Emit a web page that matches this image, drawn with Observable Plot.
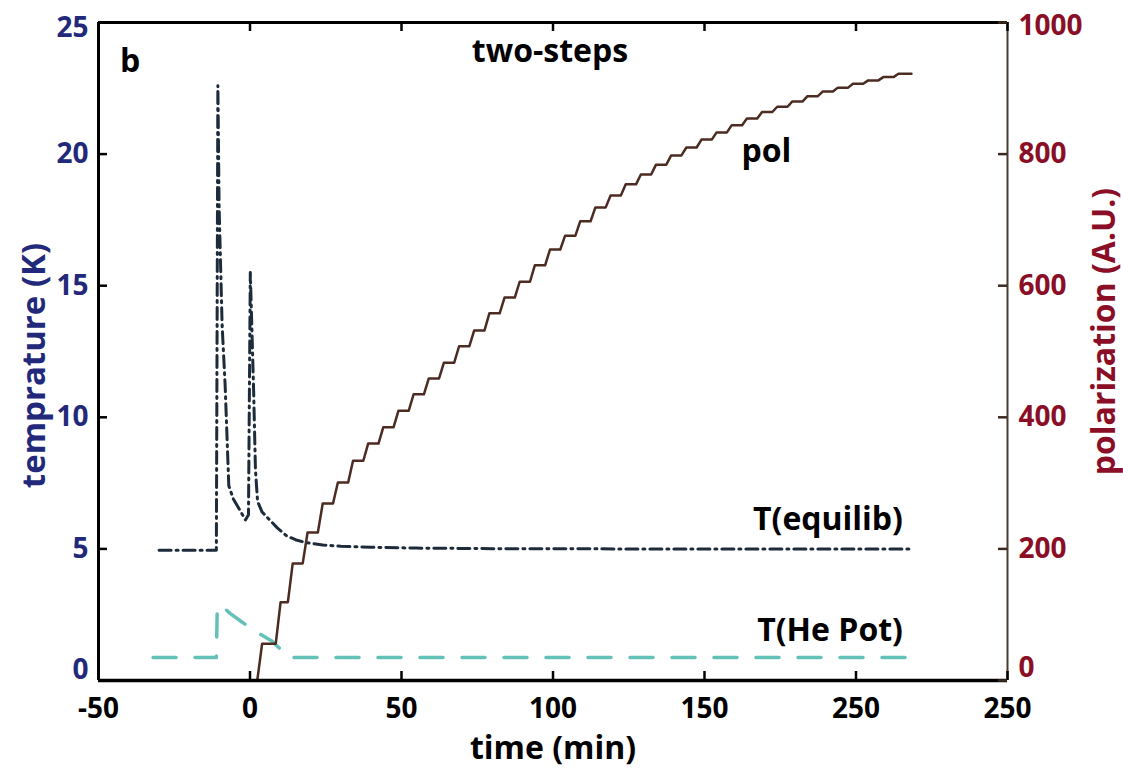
<!DOCTYPE html>
<html><head><meta charset="utf-8">
<script src="https://cdn.jsdelivr.net/npm/d3@7"></script>
<script src="https://cdn.jsdelivr.net/npm/@observablehq/plot@0.6"></script>
<style>html,body{margin:0;padding:0;background:#fff}</style>
</head><body><div id="chart"></div>
<script>
// ---- axes ----
const xTicks = [-50, 0, 50, 100, 150, 200, 250];
const xTickLabels = ["-50", "0", "50", "100", "150", "250", "250"]; // as printed in the figure
const yTicksK = [0, 5, 10, 15, 20, 25];
const polPerKelvin = 40; // right axis: 1000 A.U. at 25 K

// ---- T(equilib), dash-dot (K) ----
const eqTime = [-30, -11.1, -10.6, -10.2, -9.2, -8.2, -7.0, -5.5, -4.0, -1.5, -0.5, 0.1, 1.2, 1.8, 2.5, 4.0, 6.5, 9, 12, 15, 18, 24, 30, 40, 55, 80, 120, 218];
const eqTemp = [4.95, 4.95, 22.6, 18, 13.5, 11.2, 7.4, 6.9, 6.6, 6.1, 6.3, 15.5, 11, 8, 6.8, 6.4, 6.1, 5.8, 5.5, 5.35, 5.25, 5.15, 5.1, 5.06, 5.03, 5.01, 5.0, 5.0];

// ---- T(He Pot), dashed (K) ----
const heTime = [-32, -11.1, -10.8, -8, -6.6, -3, 0, 3.5, 7.2, 10.5, 12.5, 218];
const heTemp = [0.87, 0.87, 2.85, 2.7, 2.55, 2.25, 2.0, 1.75, 1.5, 1.14, 0.87, 0.87];

// ---- pol staircase (A.U.) ----
const polStart = 2.3;
const polEnd = 218.3;
const polStepTime = [2.4, 8.5, 12.5, 17.4, 22.4, 27.4, 32.4, 37.4, 42.4, 47.4, 52.4, 57.4, 62.4, 67.4, 72.4, 77.4, 82.4, 87.4, 92.4, 97.4, 102.4, 107.4, 112.4, 117.4, 122.4, 127.4, 132.4, 137.4, 142.4, 147.4, 152.4, 157.4, 162.4, 167.4, 172.4, 177.4, 182.4, 187.4, 192.4, 197.4, 202.4, 207.4, 212.4];
const polLevel = [56, 119, 178, 225, 269, 301, 334, 360, 385, 410, 435, 459, 483, 508, 532, 558, 582, 606, 631, 655, 676, 698, 719, 737, 754, 769, 784, 798, 810, 822, 833, 844, 854, 864, 872, 880, 888, 895, 901, 907, 912, 917, 922];

// ---- annotations ----
const notes = [
  {text: "two-steps", t: 99, k: 23.9, anchor: "middle"},
  {text: "b", t: -39.6, k: 23.5, anchor: "middle"},
  {text: "pol", t: 170.4, k: 20.1, anchor: "middle"},
  {text: "T(equilib)", t: 215.5, k: 6.1, anchor: "end"},
  {text: "T(He Pot)", t: 215.5, k: 1.9, anchor: "end"}
];

// ---- build tables ----
const eq = eqTime.map((t, i) => ({t, k: eqTemp[i]}));
const he = heTime.map((t, i) => ({t, k: heTemp[i]}));
const rise = 1.6;
const pol = [{t: polStart, v: 0}];
let prev = 0;
polStepTime.forEach((t, i) => {
  pol.push({t, v: prev});
  pol.push({t: t + rise, v: polLevel[i]});
  prev = polLevel[i];
});
pol.push({t: polEnd, v: prev});

const W = 1123, H = 773, mL = 98, mR = 116, mT = 22, mB = 93;
const fw = W - mL - mR, fh = H - mT - mB;
const font = "'Open Sans', 'DejaVu Sans', sans-serif";
const navy = "#22297a", wine = "#8b0e27";
const midK = yTicksK.slice(1, -1);
const polFmt = d => String(d * polPerKelvin);
const xFmt = d => xTickLabels[xTicks.indexOf(d)];

const chart = Plot.plot({
  width: W, height: H,
  marginLeft: mL, marginRight: mR, marginTop: mT, marginBottom: mB,
  x: {domain: [-50, 250]},
  y: {domain: [0, 25]},
  style: {fontFamily: font, background: "white"},
  marks: [
    Plot.line(he, {x: "t", y: "k", stroke: "#63c1b8", strokeWidth: 3.5, strokeDasharray: "23,19"}),
    Plot.line(eq, {x: "t", y: "k", stroke: "#1d2b3b", strokeWidth: 3, strokeDasharray: "12,5,2,5"}),
    Plot.line(pol, {x: "t", y: d => d.v / polPerKelvin, stroke: "#4b2b22", strokeWidth: 2.5}),
    // frame
    Plot.ruleX([250], {stroke: "#4a3a30", strokeWidth: 2}),
    Plot.ruleY([25], {stroke: "black", strokeWidth: 3}),
    Plot.ruleX([-50], {stroke: "black", strokeWidth: 3}),
    Plot.ruleY([0], {stroke: "black", strokeWidth: 3.5}),
    // inward ticks
    Plot.ruleX(xTicks, {insetTop: fh - 9, stroke: "black", strokeWidth: 2.5}),
    Plot.ruleX(xTicks, {insetBottom: fh - 9, stroke: "black", strokeWidth: 2.5}),
    Plot.ruleY(yTicksK, {insetRight: fw - 9, stroke: "black", strokeWidth: 2.5}),
    Plot.ruleY(yTicksK, {insetLeft: fw - 9, stroke: "#3a2a20", strokeWidth: 2.5}),
    // tick labels
    Plot.axisX({ticks: xTicks, tickFormat: xFmt, tickSize: 0, tickPadding: 18, fontSize: 28, fontWeight: 700, color: "black", label: null}),
    Plot.axisY({ticks: midK, tickFormat: d => String(d), anchor: "left", tickSize: 0, tickPadding: 10, fontSize: 28, fontWeight: 700, color: navy, label: null}),
    Plot.axisY({ticks: [0], tickFormat: d => String(d), anchor: "left", tickSize: 0, tickPadding: 10, dy: -10, fontSize: 28, fontWeight: 700, color: navy, label: null}),
    Plot.axisY({ticks: [25], tickFormat: d => String(d), anchor: "left", tickSize: 0, tickPadding: 10, dy: 6, fontSize: 28, fontWeight: 700, color: navy, label: null}),
    Plot.axisY({ticks: midK, anchor: "right", tickSize: 0, tickPadding: 11, tickFormat: polFmt, fontSize: 28, fontWeight: 700, color: wine, label: null}),
    Plot.axisY({ticks: [0], anchor: "right", tickSize: 0, tickPadding: 11, dy: -12, tickFormat: polFmt, fontSize: 28, fontWeight: 700, color: wine, label: null}),
    Plot.axisY({ticks: [25], anchor: "right", tickSize: 0, tickPadding: 11, dy: 4, tickFormat: polFmt, fontSize: 28, fontWeight: 700, color: wine, label: null}),
    // axis titles
    Plot.text(["time (min)"], {text: d => d, frameAnchor: "bottom", textAnchor: "middle", dy: 78, fontSize: 32, fontWeight: 700, fill: "black"}),
    Plot.text(["temprature (K)"], {text: d => d, frameAnchor: "left", textAnchor: "middle", dx: -64, dy: 14, rotate: -90, fontSize: 33, fontWeight: 700, fill: navy}),
    Plot.text(["polarization (A.U.)"], {text: d => d, frameAnchor: "right", textAnchor: "middle", dx: 97, dy: -20, rotate: -90, fontSize: 32, fontWeight: 700, fill: wine}),
    // annotations
    Plot.text(notes.filter(d => d.anchor === "middle"), {x: "t", y: "k", text: "text", textAnchor: "middle", fontSize: 32, fontWeight: 700, fill: "black"}),
    Plot.text(notes.filter(d => d.anchor === "end"), {x: "t", y: "k", text: "text", textAnchor: "end", fontSize: 32, fontWeight: 700, fill: "black"})
  ]
});
document.getElementById("chart").appendChild(chart);
</script>
</body></html>
